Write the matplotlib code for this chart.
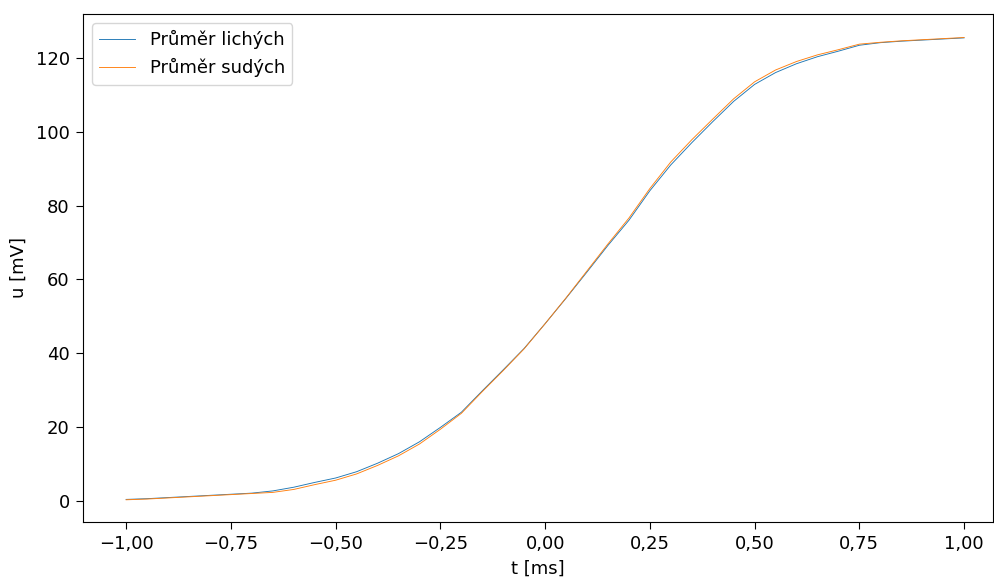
import numpy as np
import matplotlib
matplotlib.use("Agg")
import matplotlib.pyplot as plt
from matplotlib.ticker import FuncFormatter

t = [-1.00, -0.95, -0.90, -0.85, -0.80, -0.75, -0.70, -0.65, -0.60, -0.55,
     -0.50, -0.45, -0.40, -0.35, -0.30, -0.25, -0.20, -0.15, -0.10, -0.05,
     0.00, 0.05, 0.10, 0.15, 0.20, 0.25, 0.30, 0.35, 0.40, 0.45,
     0.50, 0.55, 0.60, 0.65, 0.70, 0.75, 0.80, 0.85, 0.90, 0.95, 1.00]

u_lichych = [0.4, 0.6, 0.9, 1.2, 1.5, 1.8, 2.1, 2.7, 3.7, 5.0,
             6.2, 7.9, 10.2, 12.8, 16.0, 19.9, 24.0, 29.8, 35.5, 41.3,
             48.0, 54.9, 62.0, 69.2, 76.0, 84.0, 91.0, 97.0, 102.7, 108.2,
             112.8, 116.0, 118.4, 120.3, 121.8, 123.4, 124.1, 124.5, 124.8, 125.1, 125.4]

u_sudych = [0.3, 0.5, 0.8, 1.1, 1.4, 1.7, 2.0, 2.3, 3.1, 4.4,
            5.6, 7.3, 9.6, 12.2, 15.4, 19.4, 23.7, 29.6, 35.3, 41.2,
            48.0, 55.0, 62.3, 69.6, 76.6, 84.6, 91.8, 97.8, 103.4, 108.9,
            113.5, 116.7, 119.0, 120.8, 122.2, 123.7, 124.2, 124.6, 124.9, 125.2, 125.5]

labels = ["Průměr lichých", "Průměr sudých"]

fig = plt.figure(figsize=(9.94, 5.78), dpi=100)
ax = fig.add_axes([0.0835, 0.097, 0.9155, 0.879])
ax.plot(t, u_lichych, color="#1f77b4", linewidth=0.65, label=labels[0])
ax.plot(t, u_sudych, color="#ff7f0e", linewidth=0.65, label=labels[1])

ax.set_xlim(-1.103, 1.069)
ax.set_ylim(-5.7, 131.9)
ax.set_xticks([-1.0, -0.75, -0.5, -0.25, 0.0, 0.25, 0.5, 0.75, 1.0])
ax.xaxis.set_major_formatter(FuncFormatter(
    lambda v, p: ("{:.2f}".format(v)).replace(".", ",").replace("-", "\u2212")))
ax.set_yticks([0, 20, 40, 60, 80, 100, 120])
ax.set_xlabel("t [ms]", fontsize=13, labelpad=5)
ax.set_ylabel("u [mV]", fontsize=13, labelpad=6)
ax.tick_params(labelsize=13, length=5, pad=4.5)
ax.legend(loc="upper left", fontsize=13, borderaxespad=0.5)

fig.savefig("out.png", dpi=100)
